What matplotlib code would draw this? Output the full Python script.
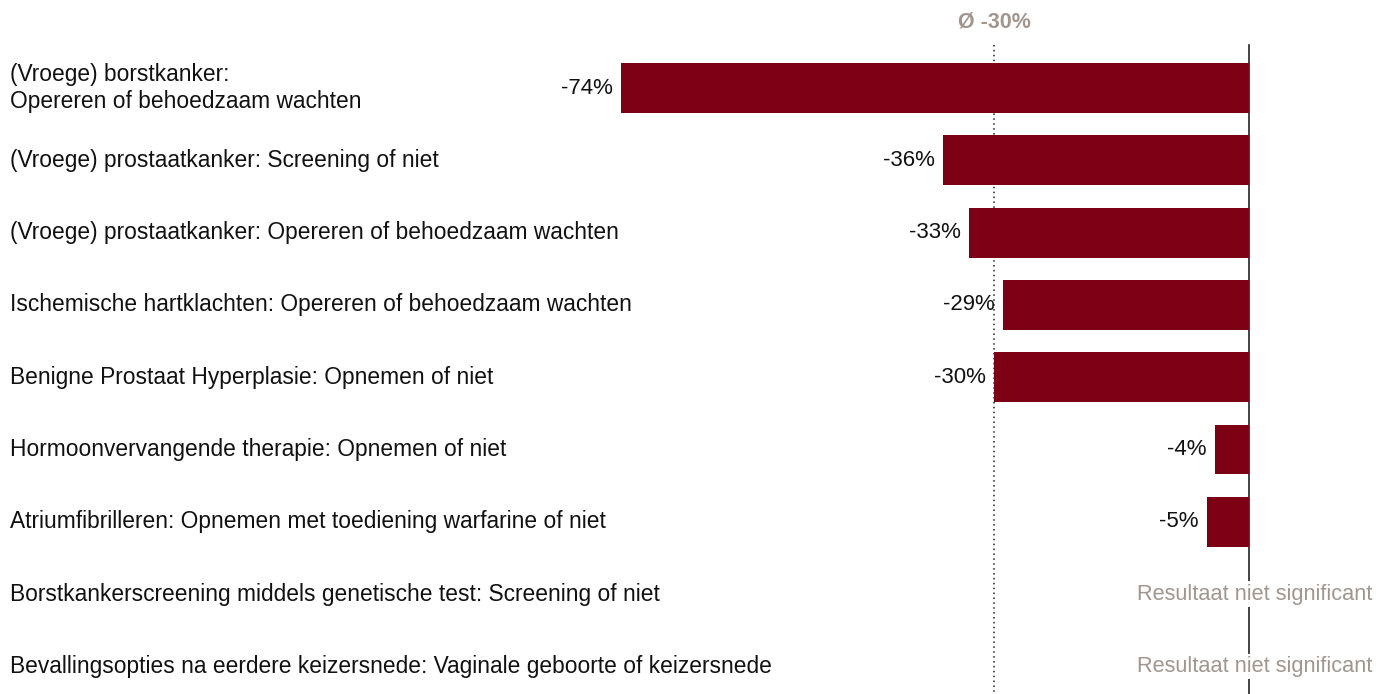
import matplotlib
matplotlib.use("Agg")
import matplotlib.pyplot as plt
import numpy as np

plt.rcParams['font.family'] = ['Liberation Sans', 'DejaVu Sans']

categories = [
    "(Vroege) borstkanker:\nOpereren of behoedzaam wachten",
    "(Vroege) prostaatkanker: Screening of niet",
    "(Vroege) prostaatkanker: Opereren of behoedzaam wachten",
    "Ischemische hartklachten: Opereren of behoedzaam wachten",
    "Benigne Prostaat Hyperplasie: Opnemen of niet",
    "Hormoonvervangende therapie: Opnemen of niet",
    "Atriumfibrilleren: Opnemen met toediening warfarine of niet",
    "Borstkankerscreening middels genetische test: Screening of niet",
    "Bevallingsopties na eerdere keizersnede: Vaginale geboorte of keizersnede",
]
values = [-74, -36, -33, -29, -30, -4, -5, None, None]
average = -30
avg_label = "Ø -30%"
ns_label = "Resultaat niet significant"

bar_color = "#7d0014"
grey = "#a1958c"

fig = plt.figure(figsize=(13.92, 6.94), dpi=100)
ax = fig.add_axes([0, 0, 1, 1])
W, H = 1392, 694
zero_px = 1249
px_per = (1249 - 621) / 74.0
ax.set_xlim(-zero_px / px_per, (W - zero_px) / px_per)
row0 = 88.0
step = 72.3
ax.set_ylim((H - row0) / step, -row0 / step)
ax.axis('off')

top_line = (45 - row0) / step
ax.plot([0, 0], [top_line, ax.get_ylim()[0]], color='#222222', lw=1.2, zorder=1)
ax.plot([average, average], [top_line, ax.get_ylim()[0]], color='#222222', lw=1.1,
        linestyle=(0, (1, 2.2)), zorder=1)
ax.text(average, (22 - row0) / step, avg_label, ha='center', va='center',
        fontsize=15.5, fontweight='bold', color=grey)

for i, (cat, v) in enumerate(zip(categories, values)):
    ax.text(-zero_px / px_per + 10 / px_per, i, cat, ha='left', va='center',
            fontsize=16.4, color='#111111', linespacing=1.2)
    if v is not None:
        ax.barh(i, v, height=0.69, color=bar_color, zorder=2)
        ax.text(v - 1.0, i, f"{v}%", ha='right', va='center', fontsize=16, color='#111111')
    else:
        ax.text((1372 - zero_px) / px_per, i, ns_label, ha='right', va='center',
                fontsize=15.7, color=grey, zorder=3,
                bbox=dict(facecolor='white', edgecolor='none', pad=1.5))

fig.savefig("out.png", dpi=100)
